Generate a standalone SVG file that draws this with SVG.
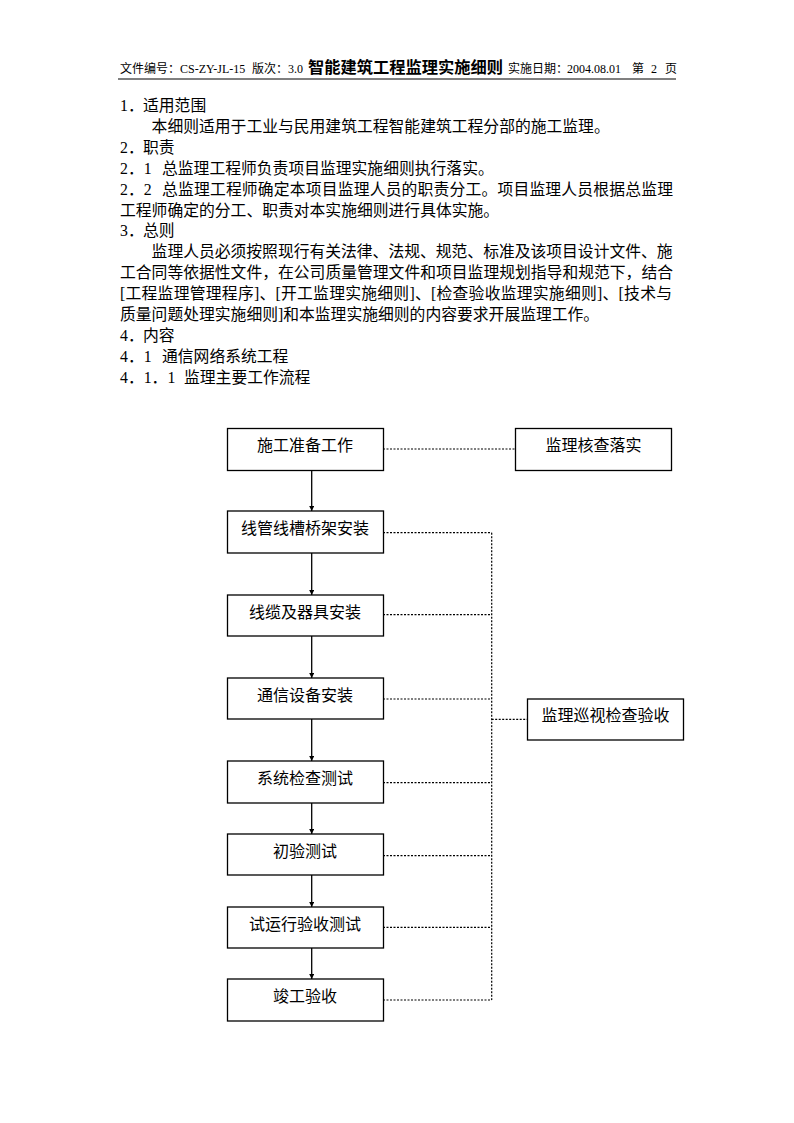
<svg xmlns="http://www.w3.org/2000/svg" width="794" height="1123" viewBox="0 0 794 1123">
<style>
.hd{font-family:"Liberation Serif","Noto Sans CJK SC",serif;font-size:12px;fill:#000}
.ttl{font-family:"Noto Sans CJK SC",sans-serif;font-size:16px;font-weight:bold;fill:#000}
.bd{font-family:"Liberation Serif","Noto Sans CJK SC",serif;font-size:15.8px;fill:#000}
.cj{font-family:"Noto Sans CJK SC",sans-serif;font-size:15.8px;fill:#000}
.box{fill:#fff;stroke:#000;stroke-width:1.3}
.lbl{font-family:"Noto Sans CJK SC",sans-serif;font-size:16px;fill:#000;text-anchor:middle}
.arr{stroke:#000;stroke-width:1.3;fill:none}
.dot{stroke:#000;stroke-width:1.2;fill:none;stroke-dasharray:2 1.5}
</style>
<defs>
<marker id="ah" markerWidth="6" markerHeight="5" refX="5" refY="2.5" orient="auto" markerUnits="userSpaceOnUse">
<path d="M0,0 L5,2.5 L0,5 Z" fill="#000"/>
</marker>
</defs>
<g id="header">
<text class="hd" y="73"><tspan x="120">文件编号：</tspan><tspan x="180">CS-ZY-JL-15</tspan><tspan x="252">版次：</tspan><tspan x="288">3.0</tspan></text>
<text class="ttl" x="308" y="73" textLength="195" lengthAdjust="spacingAndGlyphs">智能建筑工程监理实施细则</text>
<text class="hd" y="73"><tspan x="508">实施日期：</tspan><tspan x="567">2004.08.01</tspan><tspan x="632">第</tspan><tspan x="651">2</tspan><tspan x="665">页</tspan></text>
<line x1="118" y1="79" x2="676" y2="79" stroke="#000" stroke-width="1"/>
</g>
<g id="body">
<text class="bd" y="111"><tspan x="120">1．</tspan><tspan x="143" class="cj">适用范围</tspan></text>
<text class="cj" x="151.6" y="132">本细则适用于工业与民用建筑工程智能建筑工程分部的施工监理。</text>
<text class="bd" y="153"><tspan x="120">2．</tspan><tspan x="143" class="cj">职责</tspan></text>
<text class="bd" y="174"><tspan x="120">2．1</tspan><tspan x="162" class="cj">总监理工程师负责项目监理实施细则执行落实。</tspan></text>
<text class="bd" x="120" y="194.5">2．2</text>
<text class="cj" x="162" y="194.5" textLength="511" lengthAdjust="spacing">总监理工程师确定本项目监理人员的职责分工。项目监理人员根据总监理</text>
<text class="cj" x="120" y="215.5">工程师确定的分工、职责对本实施细则进行具体实施。</text>
<text class="bd" y="236"><tspan x="120">3．</tspan><tspan x="143" class="cj">总则</tspan></text>
<text class="cj" x="151.6" y="257" textLength="521" lengthAdjust="spacing">监理人员必须按照现行有关法律、法规、规范、标准及该项目设计文件、施</text>
<text class="cj" x="120" y="278" textLength="553" lengthAdjust="spacing">工合同等依据性文件，在公司质量管理文件和项目监理规划指导和规范下，结合</text>
<text class="bd" x="120" y="299" textLength="552" lengthAdjust="spacing">[工程监理管理程序]、[开工监理实施细则]、[检查验收监理实施细则]、[技术与</text>
<text class="bd" x="120" y="320">质量问题处理实施细则]和本监理实施细则的内容要求开展监理工作。</text>
<text class="bd" y="341"><tspan x="120">4．</tspan><tspan x="143" class="cj">内容</tspan></text>
<text class="bd" y="361.5"><tspan x="120">4．1</tspan><tspan x="162" class="cj">通信网络系统工程</tspan></text>
<text class="bd" y="382.5"><tspan x="120">4．1．1</tspan><tspan x="184" class="cj">监理主要工作流程</tspan></text>
</g>
<g id="connectors">
<line class="arr" x1="311.7" y1="471" x2="311.7" y2="511" marker-end="url(#ah)"/>
<line class="arr" x1="311.7" y1="553" x2="311.7" y2="595" marker-end="url(#ah)"/>
<line class="arr" x1="311.7" y1="636" x2="311.7" y2="678" marker-end="url(#ah)"/>
<line class="arr" x1="311.7" y1="719" x2="311.7" y2="761" marker-end="url(#ah)"/>
<line class="arr" x1="311.7" y1="803" x2="311.7" y2="834" marker-end="url(#ah)"/>
<line class="arr" x1="311.7" y1="875" x2="311.7" y2="907" marker-end="url(#ah)"/>
<line class="arr" x1="311.7" y1="948" x2="311.7" y2="979" marker-end="url(#ah)"/>
<line class="dot" x1="383" y1="449" x2="515" y2="449"/>
<line class="dot" x1="491.7" y1="532.7" x2="491.7" y2="1000"/>
<line class="dot" x1="383" y1="532.7" x2="491.7" y2="532.7"/>
<line class="dot" x1="383" y1="614.7" x2="491.7" y2="614.7"/>
<line class="dot" x1="383" y1="699" x2="491.7" y2="699"/>
<line class="dot" x1="383" y1="782.7" x2="491.7" y2="782.7"/>
<line class="dot" x1="383" y1="855.7" x2="491.7" y2="855.7"/>
<line class="dot" x1="383" y1="927.3" x2="491.7" y2="927.3"/>
<line class="dot" x1="383" y1="1000" x2="491.7" y2="1000"/>
<line class="dot" x1="491.7" y1="719.3" x2="527" y2="719.3"/>
</g>
<g id="n1"><rect class="box" x="227.5" y="428.5" width="156" height="42"/><text class="lbl" x="305" y="451">施工准备工作</text></g>
<g id="n2"><rect class="box" x="227.5" y="511" width="156" height="42"/><text class="lbl" x="305" y="534">线管线槽桥架安装</text></g>
<g id="n3"><rect class="box" x="227.5" y="595" width="156" height="41"/><text class="lbl" x="305" y="618">线缆及器具安装</text></g>
<g id="n4"><rect class="box" x="227.5" y="678" width="156" height="41"/><text class="lbl" x="305" y="701">通信设备安装</text></g>
<g id="n5"><rect class="box" x="227.5" y="761" width="156" height="42"/><text class="lbl" x="305" y="784">系统检查测试</text></g>
<g id="n6"><rect class="box" x="227.5" y="834" width="156" height="41"/><text class="lbl" x="305" y="857">初验测试</text></g>
<g id="n7"><rect class="box" x="227.5" y="907" width="156" height="41"/><text class="lbl" x="305" y="930">试运行验收测试</text></g>
<g id="n8"><rect class="box" x="227.5" y="979" width="156" height="42"/><text class="lbl" x="305" y="1002">竣工验收</text></g>
<g id="r1"><rect class="box" x="515.5" y="428.5" width="156" height="42"/><text class="lbl" x="593.5" y="451">监理核查落实</text></g>
<g id="r2"><rect class="box" x="527.5" y="699" width="156" height="41"/><text class="lbl" x="605.5" y="721">监理巡视检查验收</text></g>
</svg>
